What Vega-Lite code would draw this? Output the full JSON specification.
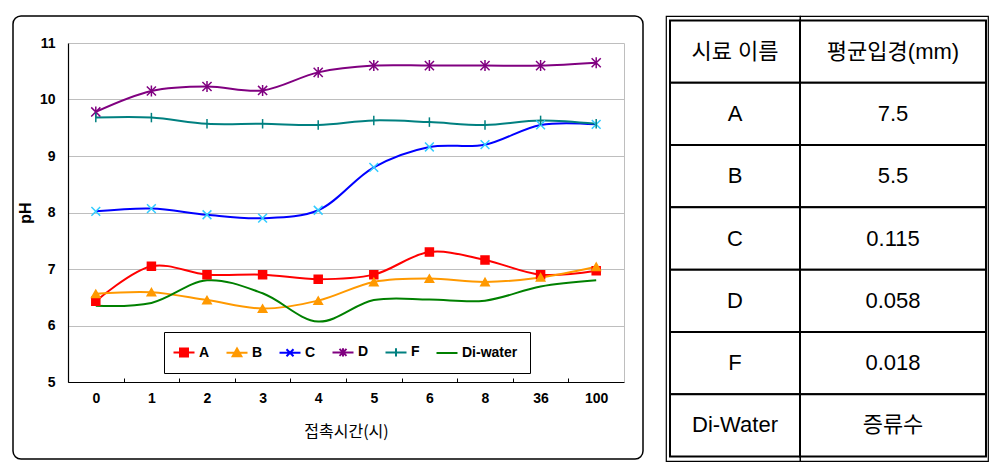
{
  "$schema": "https://vega.github.io/schema/vega-lite/v6.json",
  "background": "white",
  "padding": {"left": 12, "top": 15, "right": 0, "bottom": 0},
  "autosize": {"type": "pad"},
  "config": {"font": "Liberation Sans", "view": {"stroke": null}},
  "datasets": {
    "ph": [
      {"t": "0", "s": "A", "pH": 6.43}, {"t": "1", "s": "A", "pH": 7.05}, {"t": "2", "s": "A", "pH": 6.9}, {"t": "3", "s": "A", "pH": 6.9}, {"t": "4", "s": "A", "pH": 6.82},
      {"t": "5", "s": "A", "pH": 6.9}, {"t": "6", "s": "A", "pH": 7.3}, {"t": "8", "s": "A", "pH": 7.16}, {"t": "36", "s": "A", "pH": 6.9}, {"t": "100", "s": "A", "pH": 6.97},
      {"t": "0", "s": "B", "pH": 6.56}, {"t": "1", "s": "B", "pH": 6.59}, {"t": "2", "s": "B", "pH": 6.45}, {"t": "3", "s": "B", "pH": 6.3}, {"t": "4", "s": "B", "pH": 6.44},
      {"t": "5", "s": "B", "pH": 6.77}, {"t": "6", "s": "B", "pH": 6.83}, {"t": "8", "s": "B", "pH": 6.77}, {"t": "36", "s": "B", "pH": 6.85}, {"t": "100", "s": "B", "pH": 7.04},
      {"t": "0", "s": "C", "pH": 8.02}, {"t": "1", "s": "C", "pH": 8.07}, {"t": "2", "s": "C", "pH": 7.96}, {"t": "3", "s": "C", "pH": 7.9}, {"t": "4", "s": "C", "pH": 8.04},
      {"t": "5", "s": "C", "pH": 8.8}, {"t": "6", "s": "C", "pH": 9.16}, {"t": "8", "s": "C", "pH": 9.2}, {"t": "36", "s": "C", "pH": 9.55}, {"t": "100", "s": "C", "pH": 9.56},
      {"t": "0", "s": "D", "pH": 9.78}, {"t": "1", "s": "D", "pH": 10.15}, {"t": "2", "s": "D", "pH": 10.23}, {"t": "3", "s": "D", "pH": 10.16}, {"t": "4", "s": "D", "pH": 10.48},
      {"t": "5", "s": "D", "pH": 10.6}, {"t": "6", "s": "D", "pH": 10.6}, {"t": "8", "s": "D", "pH": 10.6}, {"t": "36", "s": "D", "pH": 10.6}, {"t": "100", "s": "D", "pH": 10.65},
      {"t": "0", "s": "F", "pH": 9.68}, {"t": "1", "s": "F", "pH": 9.68}, {"t": "2", "s": "F", "pH": 9.57}, {"t": "3", "s": "F", "pH": 9.57}, {"t": "4", "s": "F", "pH": 9.55},
      {"t": "5", "s": "F", "pH": 9.63}, {"t": "6", "s": "F", "pH": 9.6}, {"t": "8", "s": "F", "pH": 9.55}, {"t": "36", "s": "F", "pH": 9.63}, {"t": "100", "s": "F", "pH": 9.57},
      {"t": "0", "s": "Di-water", "pH": 6.35}, {"t": "1", "s": "Di-water", "pH": 6.4}, {"t": "2", "s": "Di-water", "pH": 6.8}, {"t": "3", "s": "Di-water", "pH": 6.57}, {"t": "4", "s": "Di-water", "pH": 6.07},
      {"t": "5", "s": "Di-water", "pH": 6.45}, {"t": "6", "s": "Di-water", "pH": 6.46}, {"t": "8", "s": "Di-water", "pH": 6.44}, {"t": "36", "s": "Di-water", "pH": 6.69}, {"t": "100", "s": "Di-water", "pH": 6.8}
    ],
    "table": [
      {"name": "시료 이름", "size": "평균입경(mm)"},
      {"name": "A", "size": "7.5"},
      {"name": "B", "size": "5.5"},
      {"name": "C", "size": "0.115"},
      {"name": "D", "size": "0.058"},
      {"name": "F", "size": "0.018"},
      {"name": "Di-Water", "size": "증류수"}
    ]
  },
  "spacing": 21,
  "hconcat": [
    {
      "width": 630,
      "height": 443,
      "view": {"stroke": "black", "strokeWidth": 1.5, "cornerRadius": 8, "fill": "white"},
      "data": {"name": "ph"},
      "encoding": {
        "x": {
          "field": "t", "type": "nominal", "bandPosition": 0.5,
          "scale": {"type": "band", "domain": ["0", "1", "2", "3", "4", "5", "6", "8", "36", "100"], "range": [55, 611], "paddingInner": 0, "paddingOuter": 0},
          "axis": {
            "title": "접촉시간(시)", "titleFont": "Noto Sans CJK KR", "titleFontSize": 16, "titleFontWeight": "normal", "titleColor": "black", "titlePadding": 18,
            "labelFont": "Liberation Sans", "labelFontSize": 14, "labelFontWeight": "bold", "labelColor": "black", "labelAngle": 0, "labelPadding": 13,
            "tickBand": "extent", "tickSize": -4, "tickColor": "black", "tickWidth": 1,
            "domainColor": "black", "domainWidth": 1.2, "offset": -77, "grid": false
          }
        },
        "y": {
          "field": "pH", "type": "quantitative",
          "scale": {"domain": [5, 11], "range": [366, 27], "nice": false, "zero": false},
          "axis": {
            "title": "pH", "titleFont": "Liberation Sans", "titleFontSize": 16, "titleFontWeight": "bold", "titleColor": "black", "titlePadding": 6,
            "values": [5, 6, 7, 8, 9, 10, 11], "labelFont": "Liberation Sans", "labelFontSize": 14, "labelFontWeight": "bold", "labelColor": "black",
            "labelPadding": 13, "labelFlush": false, "labelOverlap": false, "ticks": false,
            "domainColor": "black", "domainWidth": 1.2, "grid": true, "gridColor": "#BEBEBE", "gridWidth": 1, "offset": -55
          }
        }
      },
      "layer": [
        {
          "mark": {"type": "line", "strokeWidth": 2, "interpolate": "catmull-rom"},
          "encoding": {
            "color": {
              "field": "s", "type": "nominal",
              "scale": {"domain": ["A", "B", "C", "D", "F", "Di-water"], "range": ["#FF0000", "#FF9900", "#0000FF", "#800080", "#008080", "#008000"]},
              "legend": {
                "orient": "none", "legendX": 151, "legendY": 316, "direction": "horizontal", "columns": 6, "title": null,
                "padding": 12, "strokeColor": "black", "fillColor": "white",
                "symbolSize": 196, "symbolStrokeWidth": 2,
                "labelFont": "Liberation Sans", "labelFontSize": 14, "labelFontWeight": "bold", "labelColor": "black",
                "labelOffset": 7, "columnPadding": 12,
                "encode": {
                  "symbols": {
                    "update": {
                      "shape": {"signal": "datum.value === 'A' ? 'M-1.5,0H1.5M-0.57,-0.57H0.57V0.57H-0.57Z' : datum.value === 'B' ? 'M-1.5,0H1.5M0,-0.6L0.62,0.5H-0.62Z' : datum.value === 'C' ? 'M-1.5,0H1.5M-0.5,-0.5L0.5,0.5M-0.5,0.5L0.5,-0.5' : datum.value === 'D' ? 'M-1.5,0H1.5M-0.5,-0.5L0.5,0.5M-0.5,0.5L0.5,-0.5M0,-0.6V0.6' : datum.value === 'F' ? 'M-1.5,0H1.5M0,-0.6V0.6' : 'M-1.5,0H1.5'"},
                      "fill": {"signal": "datum.value === 'A' ? '#FF0000' : datum.value === 'B' ? '#FF9900' : 'transparent'"}
                    }
                  }
                }
              }
            }
          }
        },
        {
          "transform": [{"filter": "datum.s !== 'Di-water'"}],
          "mark": {"type": "point", "strokeWidth": 1.5, "opacity": 1},
          "encoding": {
            "y": {
              "field": "pH", "type": "quantitative",
              "scale": {"domain": [5, 11], "range": [366, 27], "nice": false, "zero": false},
              "axis": {"orient": "right", "offset": -19, "labels": false, "ticks": false, "grid": false, "title": null, "domainColor": "#BEBEBE", "domainWidth": 1}
            },
            "shape": {
              "field": "s", "type": "nominal", "legend": null,
              "scale": {"domain": ["A", "B", "C", "D", "F"], "range": ["square", "triangle-up", "M-1,-1L1,1M-1,1L1,-1", "M-1,-1L1,1M-1,1L1,-1M0,-1.2L0,1.2", "M0,-1L0,1"]}
            },
            "fill": {
              "field": "s", "type": "nominal", "legend": null,
              "scale": {"domain": ["A", "B", "C", "D", "F"], "range": ["#FF0000", "#FF9900", "transparent", "transparent", "transparent"]}
            },
            "stroke": {
              "field": "s", "type": "nominal", "legend": null,
              "scale": {"domain": ["A", "B", "C", "D", "F"], "range": ["#FF0000", "#FF9900", "#33CCFF", "#800080", "#008080"]}
            },
            "size": {
              "field": "s", "type": "nominal", "legend": null,
              "scale": {"domain": ["A", "B", "C", "D", "F"], "range": [64, 90, 100, 110, 100]}
            }
          }
        }
      ],
      "resolve": {"axis": {"y": "independent"}}
    },
    {
      "spacing": 0,
      "bounds": "flush",
      "hconcat": [
        {
          "width": 134,
          "height": 445,
          "view": {"stroke": "black", "strokeWidth": 1.2},
          "data": {"name": "table"},
          "encoding": {
            "y": {"field": "name", "type": "nominal", "sort": null, "scale": {"type": "band", "paddingInner": 0, "paddingOuter": 0.072}, "axis": null},
            "x": {"datum": "c", "type": "nominal", "scale": {"type": "band", "paddingInner": 0, "paddingOuter": 0.0154, "align": 1}, "axis": null}
          },
          "layer": [
            {"mark": {"type": "rect", "fill": "white", "stroke": "black", "strokeWidth": 2}},
            {
              "mark": {"type": "text", "font": "Liberation Sans, Noto Sans CJK KR", "fontSize": 22, "color": "black", "align": "center", "baseline": "middle"},
              "encoding": {
                "text": {"field": "name"},
                "y": {"field": "name", "type": "nominal", "sort": null, "bandPosition": 0.5},
                "x": {"datum": "c", "type": "nominal", "bandPosition": 0.5}
              }
            }
          ]
        },
        {
          "width": 188,
          "height": 445,
          "view": {"stroke": "black", "strokeWidth": 1.2},
          "data": {"name": "table"},
          "encoding": {
            "y": {"field": "name", "type": "nominal", "sort": null, "scale": {"type": "band", "paddingInner": 0, "paddingOuter": 0.072}, "axis": null},
            "x": {"datum": "c", "type": "nominal", "scale": {"type": "band", "paddingInner": 0, "paddingOuter": 0.0054, "align": 0}, "axis": null}
          },
          "layer": [
            {"mark": {"type": "rect", "fill": "white", "stroke": "black", "strokeWidth": 2}},
            {
              "mark": {"type": "text", "font": "Liberation Sans, Noto Sans CJK KR", "fontSize": 22, "color": "black", "align": "center", "baseline": "middle"},
              "encoding": {
                "text": {"field": "size"},
                "y": {"field": "name", "type": "nominal", "sort": null, "bandPosition": 0.5},
                "x": {"datum": "c", "type": "nominal", "bandPosition": 0.5}
              }
            }
          ]
        }
      ]
    }
  ]
}
